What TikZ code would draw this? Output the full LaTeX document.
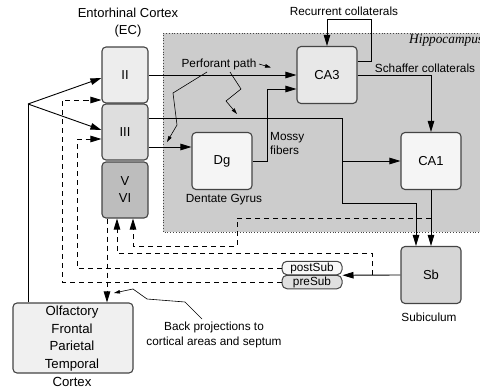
\documentclass[tikz,border=0pt]{standalone}
\usepackage{fontspec}
\setmainfont{Liberation Sans}
\newfontfamily\serifit{Liberation Serif}
\usetikzlibrary{arrows.meta,calc}
\definecolor{hipgray}{HTML}{CCCCCC}
\definecolor{edgegray}{HTML}{444444}
\tikzset{
  box/.style={draw=edgegray, line width=1.1pt, rounded corners=4pt, inner sep=0pt,
    minimum width=60pt, minimum height=57pt, font=\fontsize{13}{16}\selectfont},
  layer/.style={box, minimum width=46pt, minimum height=56pt},
  tag/.style={draw=edgegray, line width=1pt, rounded corners=5pt, inner sep=0pt,
    minimum width=60pt, minimum height=13.5pt, font=\fontsize{11.8}{13}\selectfont},
  lbl/.style={font=\fontsize{11.8}{16.5}\selectfont, inner sep=0pt, align=center},
  flow/.style={line width=0.9pt, -{Triangle[length=11pt,width=6.5pt]}},
  back/.style={line width=0.9pt, dash pattern=on 5pt off 4pt, -{Triangle[length=11pt,width=6.5pt]}},
  pointer/.style={line width=0.6pt, -{Triangle[length=6pt,width=3.5pt]}},
}
\begin{document}
\begin{tikzpicture}[x=1pt,y=-1pt]
\useasboundingbox (0,0) rectangle (480,391);

% hippocampus region
\fill[hipgray] (163,33) rectangle (486,232);
\draw[dotted, line width=0.8pt, edgegray] (486,33) -- (163,33) -- (163,232) -- (486,232);
\node[anchor=base west, inner sep=0pt, font=\serifit\itshape\fontsize{13.3}{16}\selectfont] (hiplbl) at (409,43) {Hippocampus};

% entorhinal cortex layers
\node[layer, fill=black!7]  (II)  at (125,75)  {II};
\node[layer, fill=black!13] (III) at (125,132) {III};
\node[layer, fill=black!26, align=center, font=\fontsize{13}{17}\selectfont] (VVI) at (125,190) {V\\VI};
\node[lbl, font=\fontsize{13}{17}\selectfont] (ectitle) at (128,23) {Entorhinal Cortex\\(EC)};

% hippocampal fields
\node[box, fill=black!9]  (CA3) at (327,75)  {CA3};
\node[box, fill=black!4]  (CA1) at (431,161) {CA1};
\node[box, fill=black!4]  (Dg)  at (222,161) {Dg};
\node[box, fill=black!16] (Sb)  at (431,275) {Sb};
\node[tag, fill=black!3]  (post) at (312,268) {postSub};
\node[tag, fill=black!12] (pre)  at (312,282) {preSub};

% neocortex
\node[draw=edgegray, line width=1.1pt, rounded corners=4pt, fill=black!6,
      minimum width=120pt, minimum height=70pt, inner sep=0pt] (ctx) at (73,338) {};
\node[lbl, font=\fontsize{13.2}{17.8}\selectfont, anchor=north] (ctxtxt) at (72,305.5)
  {Olfactory\\Frontal\\Parietal\\Temporal\\Cortex};

% labels
\node[lbl] (reclbl) at (344,11) {Recurrent collaterals};
\node[lbl] (schlbl) at (425,68) {Schaffer collaterals};
\node[lbl] (perlbl) at (219,64) {Perforant path};
\node[lbl, align=left, anchor=west, font=\fontsize{11.8}{13.5}\selectfont] (mosslbl) at (270,143.5) {Mossy\\fibers};
\node[lbl] (dglbl) at (224,200) {Dentate Gyrus};
\node[lbl] (sblbl) at (429,317) {Subiculum};
\node[lbl, font=\fontsize{11.8}{15}\selectfont] (backlbl) at (214,334.5) {Back projections to\\cortical areas and septum};

% cortical input
\coordinate (fork) at (28,104);
\draw[line width=0.9pt] (fork |- ctx.north) -- (fork);
\draw[flow] (fork) -- (II.west |- 0,78);
\draw[flow] (fork) -- (III.west |- 0,130);

% perforant path and trisynaptic loop
\draw[flow] (II.east) -- (CA3.west);
\draw[flow] (III.east |- 0,118) -- (342,118) -- (342,203) -- (416,203) -- (Sb.north -| 416,0);
\draw[flow] (342,161) -- (CA1.west);
\draw[flow] (III.east |- 0,147) -- (Dg.west |- 0,147);
\draw[flow] (Dg.east) -- (267,161) -- (267,89) -- (CA3.west |- 0,89);
\draw[flow] (CA3.east) -- (CA1.north |- CA3.east) -- (CA1.north);
\draw[flow] (CA3.east |- 0,61) -- (371,61) -- (371,19) -- (327,19) -- (CA3.north);
\draw[flow] (CA1.south) -- (Sb.north);
\draw[flow] (Sb.west) -- (post.south east);

% back projections
\draw[back] (pre.west) -- (62,282) -- (62,100) -- (II.west |- 0,100);
\draw[back] (post.west) -- (77,268) -- (77,139) -- (III.west |- 0,139);
\draw[back] (372,275) -- (372,253) -- (117,253) -- (VVI.south -| 117,0);
\draw[back] (431,218) -- (237,218) -- (237,246) -- (133,246) -- (VVI.south -| 133,0);
\draw[back] (VVI.south -| 107,0) -- (ctx.north -| 107,0);

% annotation pointers
\draw[pointer] (207,72) -- (173,93) -- (177,125) -- (167,142);
\draw[pointer] (230,72) -- (241,89) -- (226,101) -- (237,114);
\draw[pointer] (259,64) -- (271,67.5);
\draw[pointer] (202,319) -- (185,302) -- (147,299) -- (133,289) -- (114,293);
\end{tikzpicture}
\end{document}
